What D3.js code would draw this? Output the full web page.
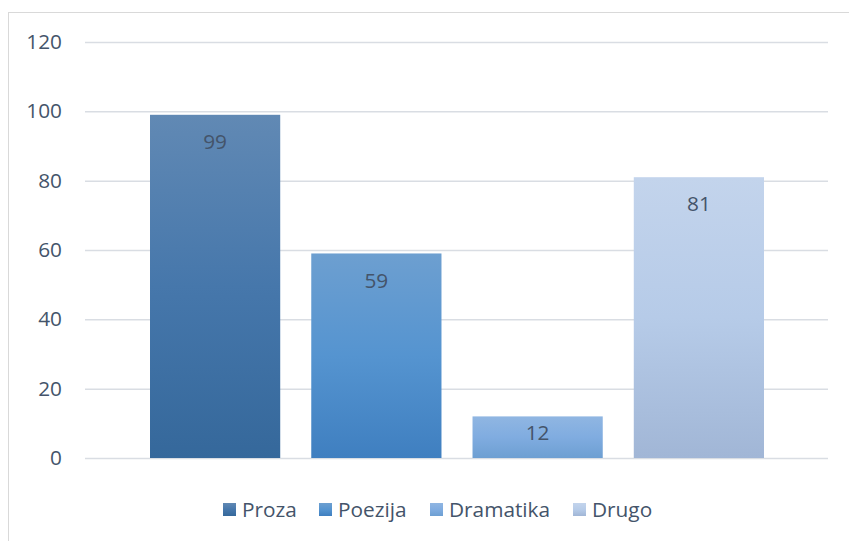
<!DOCTYPE html>
<html>
<head>
<meta charset="utf-8">
<script src="https://cdn.jsdelivr.net/npm/d3@7"></script>
<style>
  html, body { margin: 0; padding: 0; background: #ffffff; }
  svg { display: block; }
  text { font-family: "Open Sans", "Noto Sans", sans-serif; fill: #44546a; }
</style>
</head>
<body>
<svg id="chart" width="849" height="541"></svg>
<script>
const series = ["Proza", "Poezija", "Dramatika", "Drugo"];
const values = [99, 59, 12, 81];
const yTicks = [0, 20, 40, 60, 80, 100, 120];
const gradTop = ["#6189b4", "#6d9fd0", "#90b6e2", "#c3d4ec"];
const gradMid = ["#4677ab", "#5594d0", "#80ace0", "#b6cbe8"];
const gradBottom = ["#35689b", "#3f7fc0", "#6d9fd2", "#a1b6d6"];

const svg = d3.select("#chart");
const W = 849, H = 541;
const FS = "20.8px";

// chart border
svg.append("rect")
  .attr("x", 8.5).attr("y", 12.5)
  .attr("width", W).attr("height", H)
  .attr("fill", "#ffffff").attr("stroke", "#d9d9d9").attr("stroke-width", 1);

const defs = svg.append("defs");
series.forEach((s, i) => {
  const g = defs.append("linearGradient")
    .attr("id", "grad" + i)
    .attr("x1", 0).attr("y1", 0).attr("x2", 0).attr("y2", 1);
  g.append("stop").attr("offset", "0%").attr("stop-color", gradTop[i]);
  g.append("stop").attr("offset", "50%").attr("stop-color", gradMid[i]);
  g.append("stop").attr("offset", "100%").attr("stop-color", gradBottom[i]);
});

const plotLeft = 85, plotRight = 828;
const y = d3.scaleLinear().domain([0, 120]).range([458, 42]);
const x = d3.scaleBand().domain(series).range([150, 764]).paddingInner(0.1925).paddingOuter(0);

// gridlines + y axis labels
const yAxis = d3.axisLeft(y).tickValues(yTicks).tickSize(-(plotRight - plotLeft)).tickPadding(23);
const gAxis = svg.append("g")
  .attr("transform", `translate(${plotLeft},0)`)
  .call(yAxis);
gAxis.attr("font-size", null).attr("font-family", null);
gAxis.select(".domain").remove();
gAxis.selectAll(".tick line").attr("stroke", "#d9dde3").attr("stroke-width", 1.5);
gAxis.selectAll(".tick text")
  .attr("font-size", FS)
  .attr("fill", "#44546a");

// bars
const data = series.map((s, i) => ({ s, v: values[i], i }));
svg.append("g").selectAll("rect")
  .data(data)
  .join("rect")
  .attr("x", d => x(d.s))
  .attr("y", d => y(d.v))
  .attr("width", x.bandwidth())
  .attr("height", d => y(0) - y(d.v))
  .attr("fill", d => `url(#grad${d.i})`);

// data labels (inside end)
svg.append("g").selectAll("text")
  .data(data)
  .join("text")
  .attr("x", d => x(d.s) + x.bandwidth() / 2)
  .attr("y", d => y(d.v) + Math.min(27, (y(0) - y(d.v)) * 0.385))
  .attr("dy", "0.35em")
  .attr("text-anchor", "middle")
  .attr("font-size", FS)
  .text(d => d.v);

// legend
const legendX = [223, 319, 430, 573];
const leg = svg.append("g");
series.forEach((s, i) => {
  leg.append("rect")
    .attr("x", legendX[i]).attr("y", 503)
    .attr("width", 13).attr("height", 13)
    .attr("fill", `url(#grad${i})`);
  leg.append("text")
    .attr("x", legendX[i] + 19).attr("y", 517)
    .attr("font-size", FS)
    .text(s);
});
</script>
</body>
</html>
